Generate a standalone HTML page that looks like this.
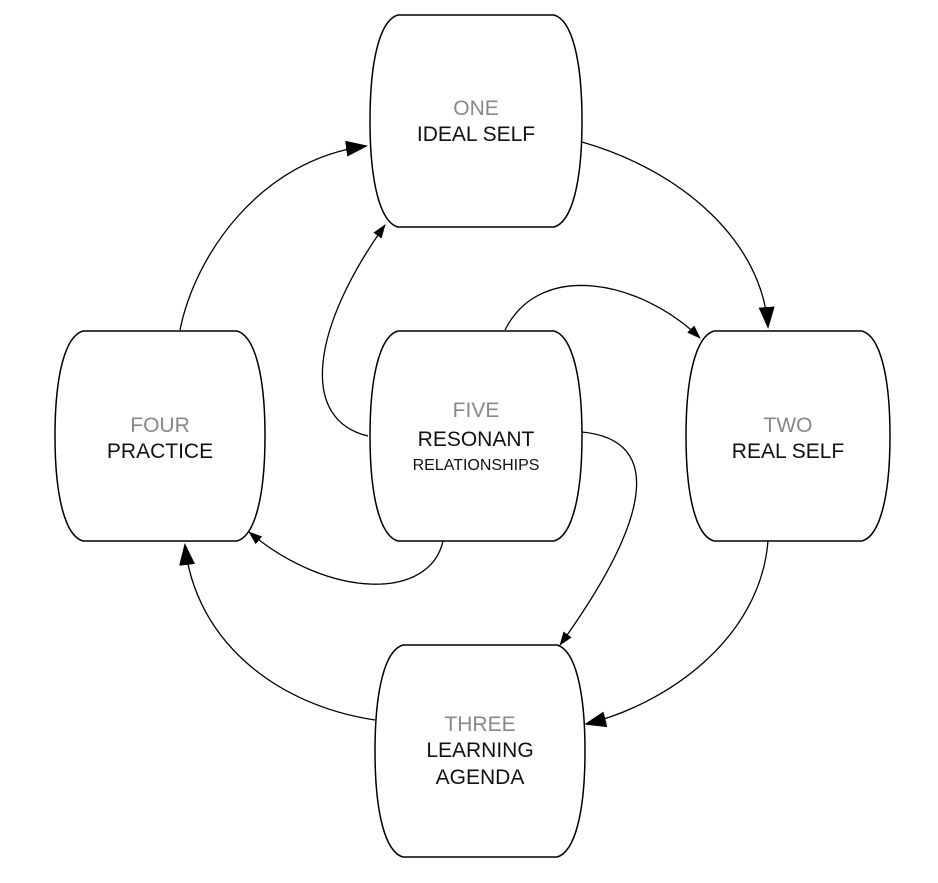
<!DOCTYPE html>
<html><head><style>body{margin:0;background:#fff}</style></head><body>
<svg width="938" height="878" viewBox="0 0 938 878" xmlns="http://www.w3.org/2000/svg" font-family="Liberation Sans, sans-serif">
<defs>
<marker id="big" markerWidth="22" markerHeight="16" refX="20" refY="8" orient="auto" markerUnits="userSpaceOnUse"><path d="M0,0 L22,8 L0,16 Z" fill="#000"/></marker>
<marker id="sm" markerWidth="14" markerHeight="10" refX="13" refY="5" orient="auto" markerUnits="userSpaceOnUse"><path d="M0,0 L14,5 L0,10 Z" fill="#000"/></marker>
</defs>
<g fill="none" stroke="#000" stroke-width="1.3">
<path d="M180,330 C195,255 260,160 366,146" marker-end="url(#big)"/>
<path d="M582,142 C680,170 762,240 768,327" marker-end="url(#big)"/>
<path d="M768,541 C760,640 665,705 586,724" marker-end="url(#big)"/>
<path d="M375,720 C275,705 195,640 185,545" marker-end="url(#big)"/>
<path d="M368,436 C300,420 310,330 385,225" marker-end="url(#sm)"/>
<path d="M505,330 C540,260 640,280 700,338" marker-end="url(#sm)"/>
<path d="M582,432 C665,440 650,520 560,645" marker-end="url(#sm)"/>
<path d="M443,541 C430,600 330,600 249,532" marker-end="url(#sm)"/>
</g>
<g fill="#fff" stroke="#000" stroke-width="1.5">
<path d="M398,15 H554 C572,20 582,60 582,121 C582,182 572,222 554,227 H398 C380,222 370,182 370,121 C370,60 380,20 398,15 Z"/>
<path d="M398,331 H554 C572,336 582,376 582,436 C582,496 572,536 554,541 H398 C380,536 370,496 370,436 C370,376 380,336 398,331 Z"/>
<path d="M83,331 H237 C255,336 265,376 265,436 C265,496 255,536 237,541 H83 C65,536 55,496 55,436 C55,376 65,336 83,331 Z"/>
<path d="M714,331 H862 C880,336 890,376 890,436 C890,496 880,536 862,541 H714 C696,536 686,496 686,436 C686,376 696,336 714,331 Z"/>
<path d="M403,645 H557 C575,650 585,690 585,751 C585,812 575,852 557,857 H403 C385,852 375,812 375,751 C375,690 385,650 403,645 Z"/>
</g>
<g text-anchor="middle" font-size="21">
<text x="476" y="115" fill="#888">ONE</text>
<text x="476" y="141" fill="#111">IDEAL SELF</text>
<text x="476" y="417" fill="#888">FIVE</text>
<text x="476" y="446" fill="#111">RESONANT</text>
<text x="476" y="470" fill="#111" font-size="16">RELATIONSHIPS</text>
<text x="160" y="432" fill="#888">FOUR</text>
<text x="160" y="458" fill="#111">PRACTICE</text>
<text x="788" y="432" fill="#888">TWO</text>
<text x="788" y="458" fill="#111">REAL SELF</text>
<text x="480" y="731" fill="#888">THREE</text>
<text x="480" y="757" fill="#111">LEARNING</text>
<text x="480" y="784" fill="#111">AGENDA</text>
</g>
</svg>
</body></html>
